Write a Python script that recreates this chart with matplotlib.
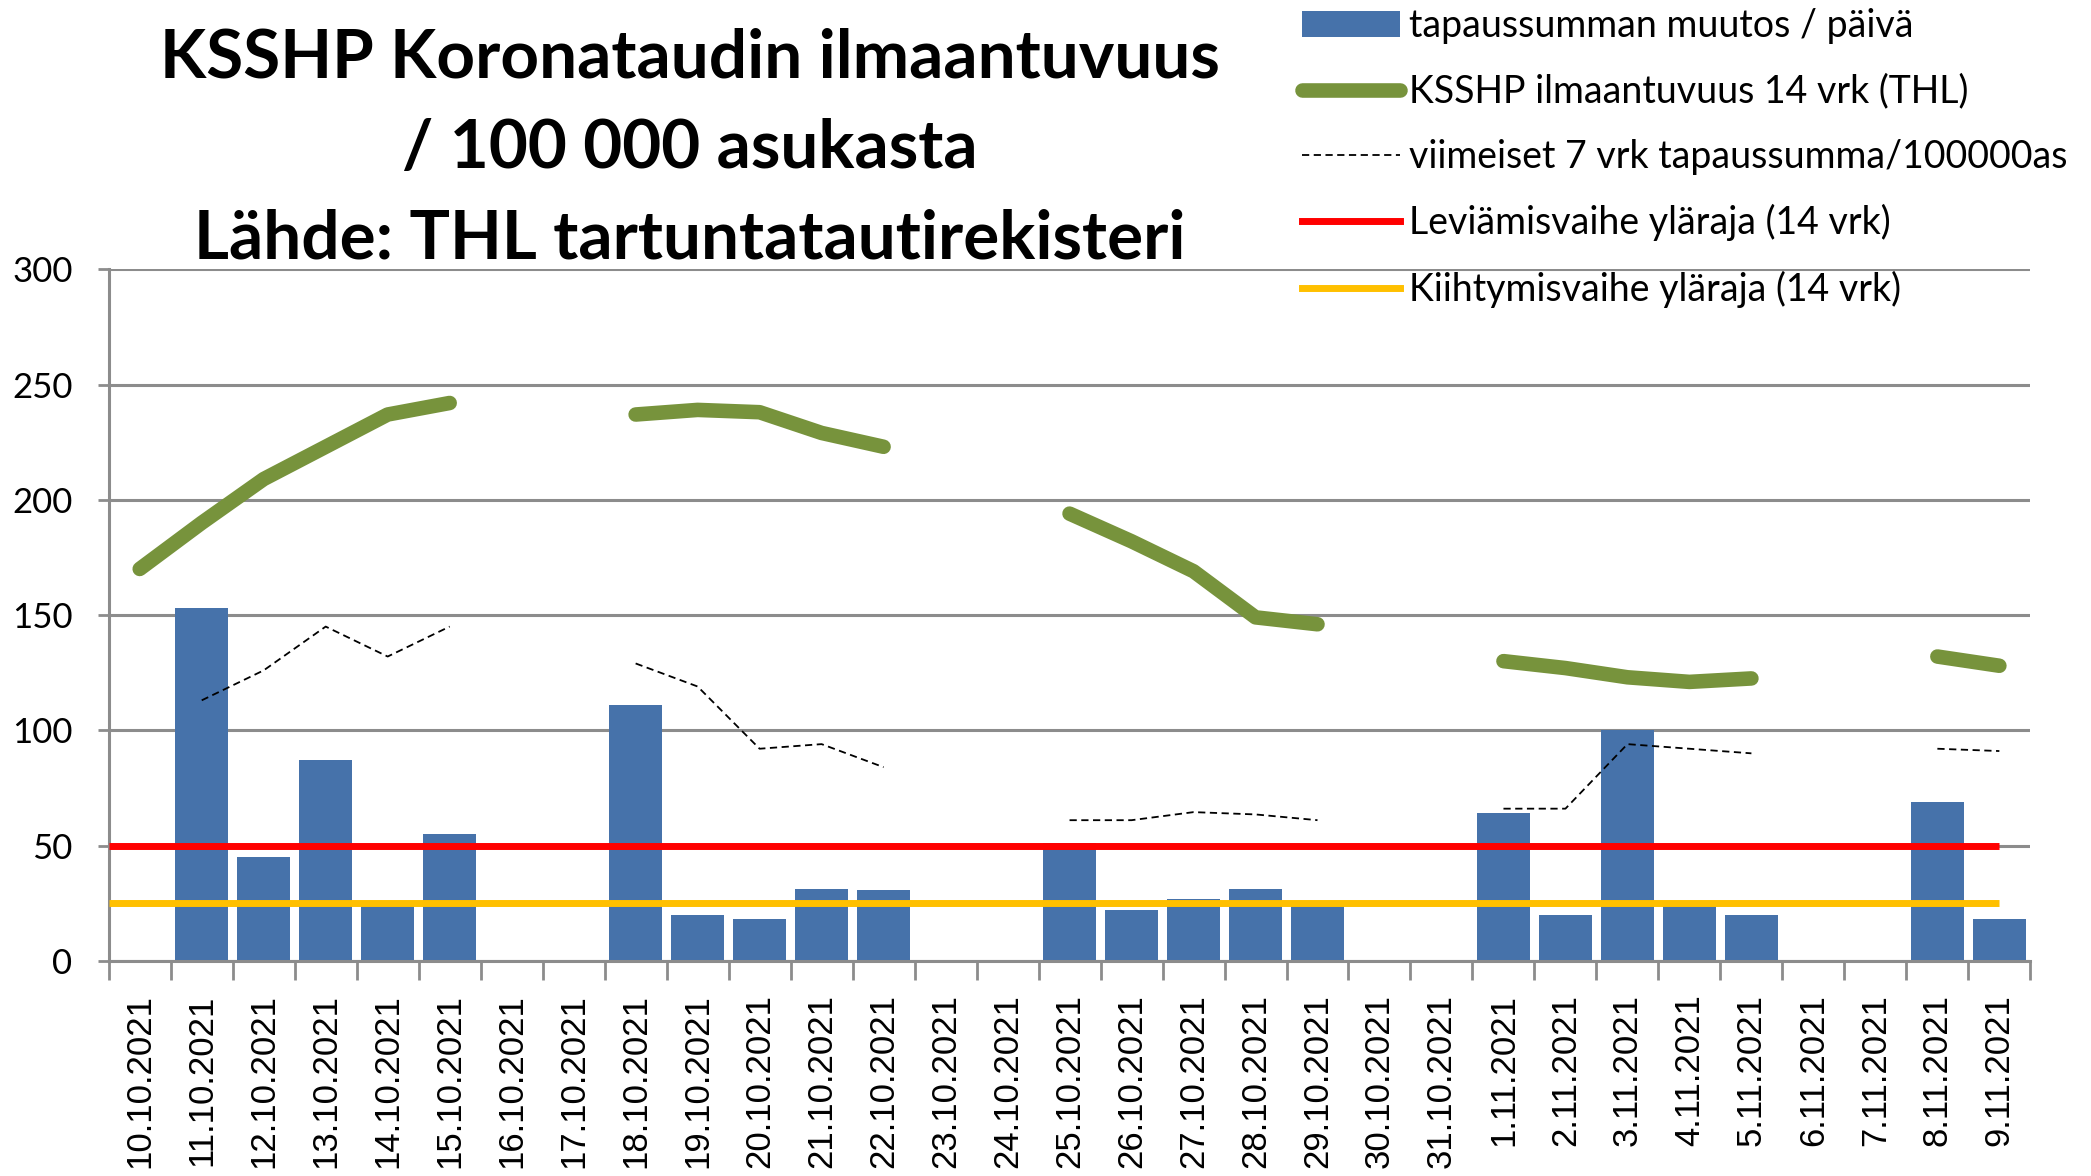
import matplotlib

matplotlib.use("Agg")
import matplotlib.pyplot as plt
import numpy as np
from matplotlib.lines import Line2D
from matplotlib.patches import Patch

nan = np.nan

dates = ["10.10.2021", "11.10.2021", "12.10.2021", "13.10.2021", "14.10.2021",
         "15.10.2021", "16.10.2021", "17.10.2021", "18.10.2021", "19.10.2021",
         "20.10.2021", "21.10.2021", "22.10.2021", "23.10.2021", "24.10.2021",
         "25.10.2021", "26.10.2021", "27.10.2021", "28.10.2021", "29.10.2021",
         "30.10.2021", "31.10.2021", "1.11.2021", "2.11.2021", "3.11.2021",
         "4.11.2021", "5.11.2021", "6.11.2021", "7.11.2021", "8.11.2021",
         "9.11.2021"]

# tapaussumman muutos / päivä
daily_change = [nan, 153, 45, 87, 25, 55, nan, nan, 111, 20,
                18, 31, 30.5, nan, nan, 51, 22, 27, 31, 24,
                nan, nan, 64, 20, 100, 24, 20, nan, nan, 69,
                18]

# KSSHP ilmaantuvuus 14 vrk (THL)
incidence_14d = [170, 190, 209, 223, 237, 242, nan, nan, 237, 239,
                 238, 229, 223, nan, nan, 194, 182, 169, 149, 146,
                 nan, nan, 130, 127, 123, 121, 122.5, nan, nan, 132,
                 128]

# viimeiset 7 vrk tapaussumma/100000as
sum_7d = [nan, 113, 126, 145, 132, 145, nan, nan, 129, 119,
          92, 94, 84, nan, nan, 61, 61, 64.5, 63.5, 61,
          nan, nan, 66, 66, 94, 92, 90, nan, nan, 92,
          91]

spread_limit = 50       # Leviämisvaihe yläraja (14 vrk)
acceleration_limit = 25  # Kiihtymisvaihe yläraja (14 vrk)

labels = ["tapaussumman muutos / päivä",
          "KSSHP ilmaantuvuus 14 vrk (THL)",
          "viimeiset 7 vrk tapaussumma/100000as",
          "Leviämisvaihe yläraja (14 vrk)",
          "Kiihtymisvaihe yläraja (14 vrk)"]

title_lines = ["KSSHP Koronataudin ilmaantuvuus",
               "/ 100 000 asukasta",
               "Lähde: THL tartuntatautirekisteri"]

SANS = ["Lato", "DejaVu Sans"]
BAR_C = "#4672AA"
GREEN = "#77933C"
GRID_C = "#8C8C8C"

fig = plt.figure(figsize=(20.91, 11.76), dpi=100)
ax = fig.add_axes([0.052, 0.183, 0.919, 0.588])

x = np.arange(len(dates))
ax.bar(x, daily_change, width=0.85, color=BAR_C, zorder=2)
ax.plot(x, incidence_14d, color=GREEN, lw=10.5, solid_capstyle="round",
        solid_joinstyle="round", zorder=4)
ax.plot(x, sum_7d, color="black", lw=1.3, ls=(0, (4, 2.5)), zorder=4)
ax.set_xlim(-0.5, len(dates) - 0.5)
ax.hlines(spread_limit, ax.get_xlim()[0], x[-1], color="#FF0000", lw=5, zorder=3)
ax.hlines(acceleration_limit, ax.get_xlim()[0], x[-1], color="#FFC000", lw=5, zorder=3)

ax.set_ylim(0, 300)
ax.set_yticks(np.arange(0, 301, 50))
ax.yaxis.grid(True, color=GRID_C, lw=2.2, zorder=0)
ax.set_axisbelow(True)
for lab in ax.get_yticklabels():
    lab.set_family(SANS)
    lab.set_fontsize(25)
ax.tick_params(axis="y", length=8, width=2, color=GRID_C, pad=18)

# x ticks: marks between categories, labels centred on categories
ax.set_xticks(np.arange(len(dates) + 1) - 0.5)
ax.set_xticklabels([])
ax.set_xticks(x, minor=True)
ax.set_xticklabels(dates, minor=True, rotation=90, fontsize=25,
                   family=["Liberation Sans", "DejaVu Sans"])
ax.tick_params(axis="x", which="major", length=14, width=2, color=GRID_C)
ax.tick_params(axis="x", which="minor", length=0, pad=24)

for side in ["top", "right"]:
    ax.spines[side].set_visible(False)
for side in ["left", "bottom"]:
    ax.spines[side].set_color(GRID_C)
    ax.spines[side].set_linewidth(2.2)

for i, line in enumerate(title_lines):
    fig.text(0.33, 0.950 - i * 0.077, line, ha="center", va="center",
             fontsize=48.5, fontweight="bold", family=SANS)

handles = [Patch(facecolor=BAR_C),
           Line2D([], [], color=GREEN, lw=10.5, solid_capstyle="round"),
           Line2D([], [], color="black", lw=1.3, ls=(0, (4, 2.5))),
           Line2D([], [], color="#FF0000", lw=5),
           Line2D([], [], color="#FFC000", lw=5)]
fig.legend(handles, labels, loc="upper left", bbox_to_anchor=(0.621, 0.996),
           frameon=False, prop={"family": SANS, "size": 27},
           handlelength=2.6, handletextpad=0.25, labelspacing=0.78,
           borderaxespad=0, borderpad=0.1)

fig.savefig("out.png", dpi=100)
